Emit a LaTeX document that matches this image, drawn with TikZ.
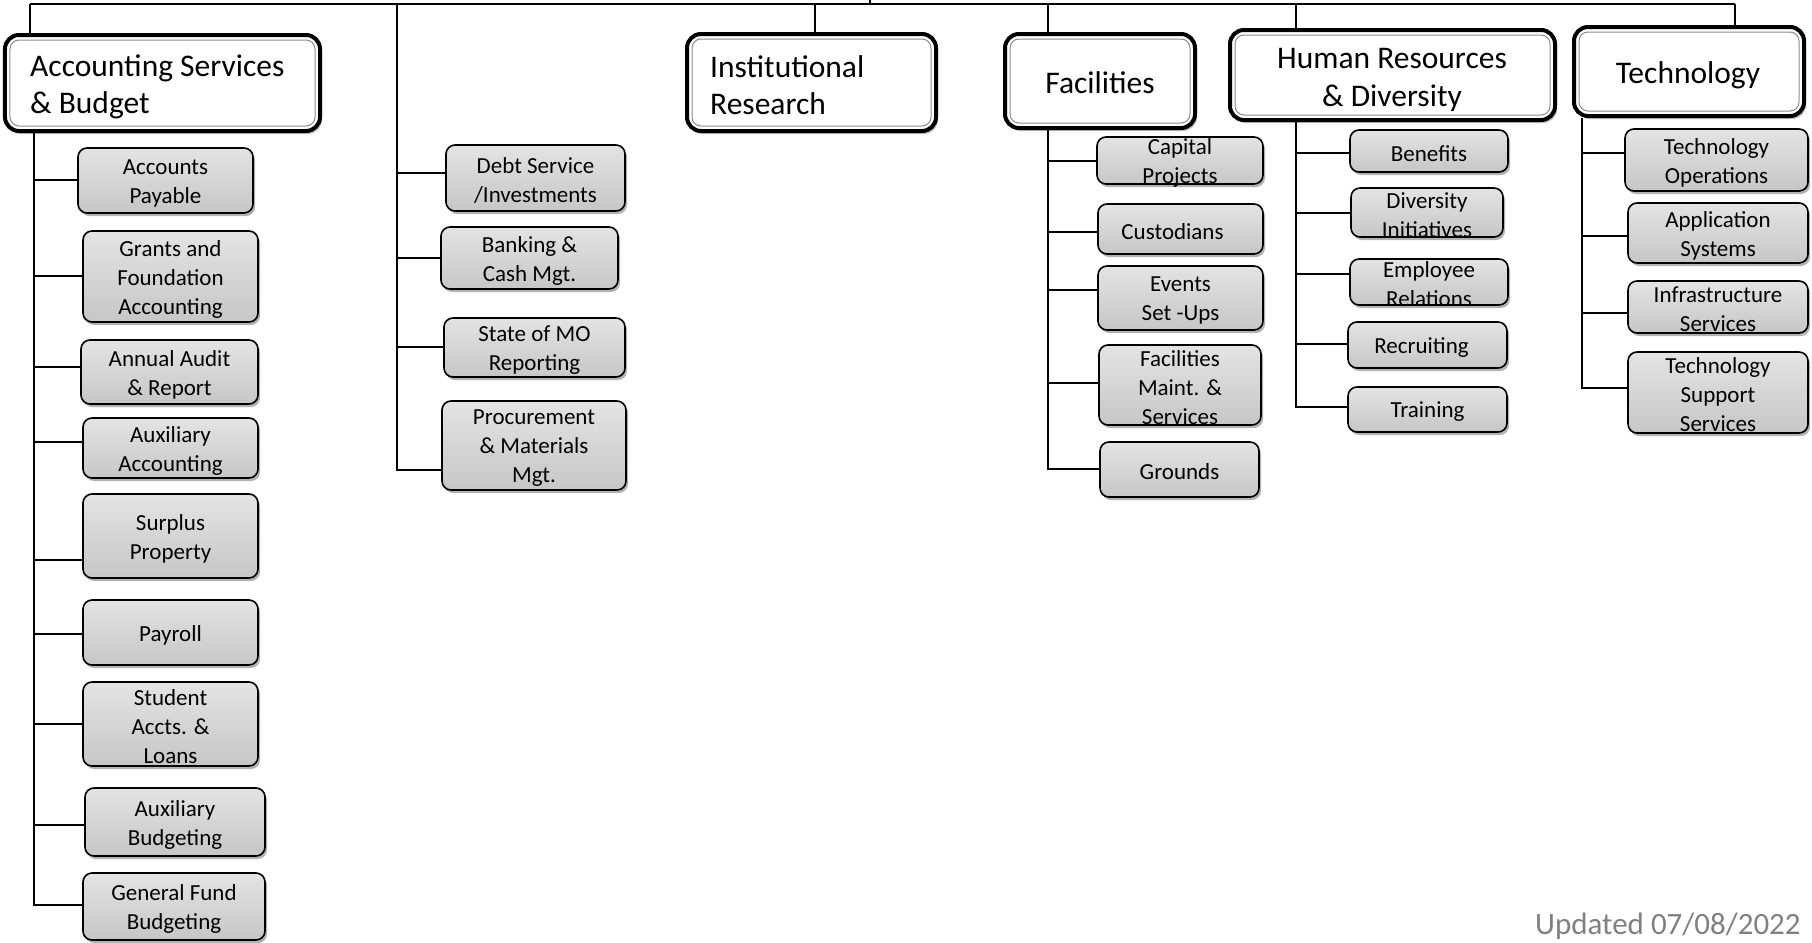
\documentclass[tikz,border=0pt]{standalone}
\usepackage{fontspec}
\setmainfont{Carlito}
\usetikzlibrary{shadows,calc}
\pgfdeclareverticalshading{cshade}{100bp}{color(0bp)=(black!28); color(100bp)=(black!5)}
\pgfdeclareverticalshading{hshade}{100bp}{color(0bp)=(black!32); color(22bp)=(white); color(100bp)=(white)}
\newcommand\mkbox[6]{%
  \pgfmathsetmacro\bxcx{(#3+#5)/2}\pgfmathsetmacro\bxcy{(#4+#6)/2}%
  \pgfmathsetmacro\bxw{#5-#3}\pgfmathsetmacro\bxh{#6-#4}%
  \node[#1, minimum width=\bxw bp, minimum height=\bxh bp] (#2) at (\bxcx,\bxcy) {};}
\tikzset{
  conn/.style={line width=2bp, draw=black},
  cbox/.style={draw=black, line width=1.6bp, rounded corners=9bp, shade, shading=cshade, inner sep=0pt,
    drop shadow={shadow xshift=2bp, shadow yshift=-3bp, opacity=0.3, fill=black}},
  ctext/.style={align=center, font=\fontsize{23bp}{29bp}\selectfont, inner sep=0pt, yshift=-2.5bp},
  hbox/.style={draw=black, line width=4bp, rounded corners=14bp, fill=white, inner sep=0pt,
    drop shadow={shadow xshift=2bp, shadow yshift=-3bp, opacity=0.25, fill=black},
    path picture={\draw[black!45, line width=1bp, rounded corners=9bp, shade, shading=hshade]
      ([xshift=5bp,yshift=-5bp]path picture bounding box.north west) rectangle
      ([xshift=-5bp,yshift=5bp]path picture bounding box.south east);}},
  htext/.style={font=\fontsize{31.5bp}{37.5bp}\selectfont, inner sep=0pt},
}
\begin{document}
\begin{tikzpicture}[x=1bp,y=-1bp]
\useasboundingbox (0,0) rectangle (1812,942);
% ---- header boxes
\mkbox{hbox}{acc}{5}{35}{320}{131}
\mkbox{hbox}{ir}{687}{34}{936}{131}
\mkbox{hbox}{fac}{1005}{34}{1195}{128}
\mkbox{hbox}{hr}{1230}{30}{1555}{120}
\mkbox{hbox}{tech}{1574}{27}{1804}{116}
\node[htext, anchor=west, align=left] (acc-t) at (30,87) {Accounting Services\\\& Budget};
\node[htext, anchor=west, align=left] (ir-t) at (710,85) {Institutional\\Research};
\node[htext] (fac-t) at (1100,83) {Facilities};
\node[htext, align=center] (hr-t) at (1392,80) {Human Resources\\\& Diversity};
\node[htext] (tech-t) at (1688,75) {Technology};
% ---- accounting children
\mkbox{cbox}{ap}{78}{148}{253}{213}
\mkbox{cbox}{gr}{83}{231}{258}{322}
\mkbox{cbox}{aa}{81}{340}{258}{404}
\mkbox{cbox}{ax}{83}{418}{258}{478}
\mkbox{cbox}{sp}{83}{494}{258}{578}
\mkbox{cbox}{pr}{83}{600}{258}{665}
\mkbox{cbox}{sa}{83}{682}{258}{766}
\mkbox{cbox}{ab}{85}{788}{265}{856}
\mkbox{cbox}{gf}{83}{873}{265}{940}
\node[ctext] (ap-t) at (ap) {Accounts\\Payable};
\node[ctext] (gr-t) at (gr) {Grants and\\Foundation\\Accounting};
\node[ctext] (aa-t) at (aa) {Annual Audit\\\& Report};
\node[ctext] (ax-t) at (ax) {Auxiliary\\Accounting};
\node[ctext] (sp-t) at (sp) {Surplus\\Property};
\node[ctext] (pr-t) at (pr) {Payroll};
\node[ctext] (sa-t) at (sa) {Student\\Accts. \&\\Loans};
\node[ctext] (ab-t) at (ab) {Auxiliary\\Budgeting};
\node[ctext] (gf-t) at (gf) {General Fund\\Budgeting};
% ---- debt group
\mkbox{cbox}{ds}{446}{145}{625}{211}
\mkbox{cbox}{bk}{441}{227}{618}{289}
\mkbox{cbox}{mo}{444}{318}{625}{377}
\mkbox{cbox}{pm}{442}{401}{626}{490}
\node[ctext] (ds-t) at (ds) {Debt Service\\/Investments};
\node[ctext] (bk-t) at (bk) {Banking \&\\Cash Mgt.};
\node[ctext] (mo-t) at (mo) {State of MO\\Reporting};
\node[ctext] (pm-t) at (pm) {Procurement\\\& Materials\\Mgt.};
% ---- facilities children
\mkbox{cbox}{cp}{1097}{137}{1263}{184}
\mkbox{cbox}{cu}{1098}{204}{1263}{254}
\mkbox{cbox}{ev}{1098}{266}{1263}{330}
\mkbox{cbox}{fm}{1099}{345}{1261}{425}
\mkbox{cbox}{gd}{1100}{442}{1259}{497}
\node[ctext] (cp-t) at (cp) {Capital\\Projects};
\node[ctext] (cu-t) at ([xshift=-8bp]cu.center) {Custodians};
\node[ctext] (ev-t) at (ev) {Events\\Set -Ups};
\node[ctext] (fm-t) at (fm) {Facilities\\Maint. \&\\Services};
\node[ctext] (gd-t) at (gd) {Grounds};
% ---- HR children
\mkbox{cbox}{be}{1350}{130}{1508}{172}
\mkbox{cbox}{di}{1351}{188}{1503}{237}
\mkbox{cbox}{er}{1350}{259}{1508}{305}
\mkbox{cbox}{rc}{1348}{322}{1507}{368}
\mkbox{cbox}{tr}{1348}{387}{1507}{432}
\node[ctext] (be-t) at (be) {Benefits};
\node[ctext] (di-t) at (di) {Diversity\\Initiatives};
\node[ctext] (er-t) at (er) {Employee\\Relations};
\node[ctext] (rc-t) at ([xshift=-6bp]rc.center) {Recruiting};
\node[ctext] (tr-t) at (tr) {Training};
% ---- technology children
\mkbox{cbox}{to}{1625}{129}{1808}{191}
\mkbox{cbox}{as}{1628}{203}{1808}{263}
\mkbox{cbox}{is}{1628}{281}{1808}{333}
\mkbox{cbox}{ts}{1628}{352}{1808}{433}
\node[ctext] (to-t) at (to) {Technology\\Operations};
\node[ctext] (as-t) at (as) {Application\\Systems};
\node[ctext] (is-t) at (is) {Infrastructure\\Services};
\node[ctext] (ts-t) at (ts) {Technology\\Support\\Services};
% ---- updated note
\node[font=\fontsize{31bp}{36bp}\selectfont, text=black!50, anchor=base west, inner sep=0pt] (upd) at (1535,934) {Updated 07/08/2022};
% ---- connectors
\coordinate (par) at (870,-10);
\coordinate (tp) at (870,3.5);
\coordinate (tl) at (30,3.5);
\coordinate (td) at (397,3.5);
\coordinate (tir) at (815,3.5);
\coordinate (tfac) at (1048,3.5);
\coordinate (thr) at (1296,3.5);
\coordinate (ttech) at (1735,3.5);
\draw[conn] (tl) -- (ttech);
\draw[conn] (par) -- (tp);
\draw[conn] (tl) -- (tl |- acc.north);
\draw[conn] (tir) -- (tir |- ir.north);
\draw[conn] (tfac) -- (tfac |- fac.north);
\draw[conn] (thr) -- (thr |- hr.north);
\draw[conn] (ttech) -- (ttech |- tech.north);
% accounting branch
\coordinate (accv) at (34,905);
\draw[conn] (accv |- acc.south) -- (accv) -- (gf.west |- accv);
\foreach \n/\y in {ap/180,gr/276,aa/367,ax/442,sp/560,pr/634,sa/724,ab/825}{
  \coordinate (yy) at (0,\y);
  \draw[conn] (accv |- yy) -- (\n.west |- yy);
}
% debt branch
\coordinate (dv) at (397,470);
\draw[conn] (td) -- (dv) -- (pm.west |- dv);
\foreach \n/\y in {ds/173,bk/258,mo/347}{
  \coordinate (yy) at (0,\y);
  \draw[conn] (dv |- yy) -- (\n.west |- yy);
}
% facilities branch
\coordinate (fv) at (1048,469);
\draw[conn] (fv |- fac.south) -- (fv) -- (gd.west |- fv);
\foreach \n/\y in {cp/161,cu/232,ev/290,fm/383}{
  \coordinate (yy) at (0,\y);
  \draw[conn] (fv |- yy) -- (\n.west |- yy);
}
% HR branch
\coordinate (hv) at (1296,407);
\draw[conn] (hv |- hr.south) -- (hv) -- (tr.west |- hv);
\foreach \n/\y in {be/153,di/213,er/274,rc/344}{
  \coordinate (yy) at (0,\y);
  \draw[conn] (hv |- yy) -- (\n.west |- yy);
}
% technology branch
\coordinate (tv) at (1582,388);
\draw[conn] (tv |- tech.south) -- (tv) -- (ts.west |- tv);
\foreach \n/\y in {to/153,as/236,is/313}{
  \coordinate (yy) at (0,\y);
  \draw[conn] (tv |- yy) -- (\n.west |- yy);
}
\end{tikzpicture}
\end{document}
